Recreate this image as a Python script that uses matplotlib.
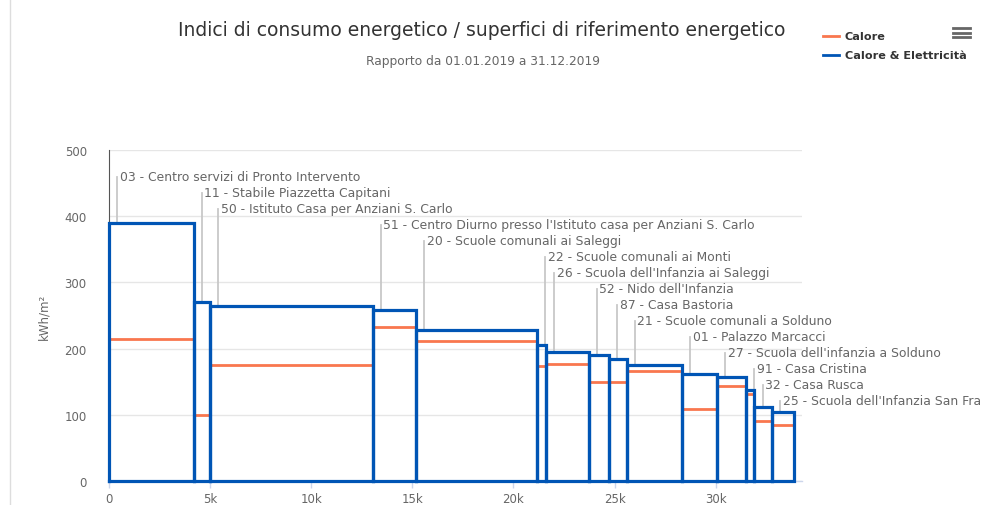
import matplotlib
matplotlib.use("Agg")
import matplotlib.pyplot as plt
from matplotlib.lines import Line2D
import numpy as np

# ---- data ----
labels = [
    "03 - Centro servizi di Pronto Intervento",
    "11 - Stabile Piazzetta Capitani",
    "50 - Istituto Casa per Anziani S. Carlo",
    "51 - Centro Diurno presso l'Istituto casa per Anziani S. Carlo",
    "20 - Scuole comunali ai Saleggi",
    "22 - Scuole comunali ai Monti",
    "26 - Scuola dell'Infanzia ai Saleggi",
    "52 - Nido dell'Infanzia",
    "87 - Casa Bastoria",
    "21 - Scuole comunali a Solduno",
    "01 - Palazzo Marcacci",
    "27 - Scuola dell'infanzia a Solduno",
    "91 - Casa Cristina",
    "32 - Casa Rusca",
    "25 - Scuola dell'Infanzia San Fra",
]
surfaces = [4200, 810, 8030, 2150, 5980, 440, 2120, 1010, 870, 2740, 1720, 1430, 420, 870, 1100]
calore_elettricita = [389.5, 270, 264, 259, 228.5, 205.5, 195.5, 190.5, 184, 175.5, 161.5, 156.5, 137.5, 111.5, 104.5]
calore = [214, 100, 175.5, 232, 212, 174, 177, 149, 149, 166, 109, 144, 132, 91, 85]
x_ticks = [0, 5000, 10000, 15000, 20000, 25000, 30000]
x_tick_labels = ["0", "5k", "10k", "15k", "20k", "25k", "30k"]
y_ticks = [0, 100, 200, 300, 400, 500]

BLUE = "#0055b5"
ORANGE = "#f9774e"
W, H = 987, 506

fig = plt.figure(figsize=(W / 100, H / 100), dpi=100)
ax = fig.add_axes([109 / W, (H - 482) / H, (802 - 109) / W, (482 - 151) / H])
ax.set_xlim(0, 34270)
ax.set_ylim(0, 500)

# grid
ax.set_yticks(y_ticks)
ax.yaxis.grid(True, color="#e6e6e6", linewidth=1)
ax.set_axisbelow(True)

lefts = np.concatenate([[0], np.cumsum(surfaces)[:-1]])
for i, (l, w, tot, cal) in enumerate(zip(lefts, surfaces, calore_elettricita, calore)):
    ax.plot([l, l + w], [cal, cal], color=ORANGE, linewidth=2, solid_capstyle="butt", zorder=3)
    ax.plot([l, l, l + w, l + w, l], [0, tot, tot, 0, 0], color=BLUE, linewidth=2.3,
            solid_joinstyle="miter", zorder=4, clip_on=False)

# data labels with leader lines
axh_px = 482 - 151
dx = 400
for i, (l, tot, lab) in enumerate(zip(lefts, calore_elettricita, labels)):
    y_lab = 500 - (26.5 + 16 * i) * 500 / axh_px
    xl = l + dx
    ax.plot([xl, xl], [y_lab, tot + 1], color="#c8c8c8", linewidth=1.3, zorder=2, clip_on=False)
    ax.text(xl + 120, y_lab, lab, ha="left", va="center", fontsize=8.9, color="#666666",
            family="DejaVu Sans", clip_on=False, zorder=5)

# axes styling
for s in ["top", "right"]:
    ax.spines[s].set_visible(False)
ax.spines["left"].set_color("#555555")
ax.spines["left"].set_linewidth(0.8)
ax.spines["bottom"].set_color("#ccd6eb")
ax.spines["bottom"].set_linewidth(1)
ax.set_xticks(x_ticks)
ax.set_xticklabels(x_tick_labels)
ax.tick_params(axis="x", colors="#ccd6eb", length=5, width=1, labelcolor="#666666", labelsize=8.5, pad=3)
ax.tick_params(axis="y", length=0, labelcolor="#666666", labelsize=8.5, pad=16)
ax.set_ylabel("kWh/m²", fontsize=8.5, color="#666666", labelpad=10)

# titles
fig.text(482 / W, 1 - 30 / H, "Indici di consumo energetico / superfici di riferimento energetico",
         ha="center", va="center", fontsize=13.5, color="#333333")
fig.text(483 / W, 1 - 62 / H, "Rapporto da 01.01.2019 a 31.12.2019",
         ha="center", va="center", fontsize=8.8, color="#666666")

# legend
fig.add_artist(Line2D([823 / W, 839 / W], [1 - 36.5 / H, 1 - 36.5 / H], color=ORANGE, linewidth=2))
fig.add_artist(Line2D([823 / W, 839 / W], [1 - 56 / H, 1 - 56 / H], color=BLUE, linewidth=2))
fig.text(845 / W, 1 - 36.5 / H, "Calore", ha="left", va="center", fontsize=8.1,
         fontweight="bold", color="#333333")
fig.text(845 / W, 1 - 56 / H, "Calore & Elettricità", ha="left", va="center", fontsize=8.1,
         fontweight="bold", color="#333333")

# menu icon
for yy in [29, 33.5, 38.3]:
    fig.add_artist(Line2D([953 / W, 970 / W], [1 - yy / H, 1 - yy / H], color="#666666", linewidth=2))

# left page border
fig.add_artist(Line2D([10 / W, 10 / W], [0, 1], color="#dddddd", linewidth=1))

fig.savefig("out.png", dpi=100)
